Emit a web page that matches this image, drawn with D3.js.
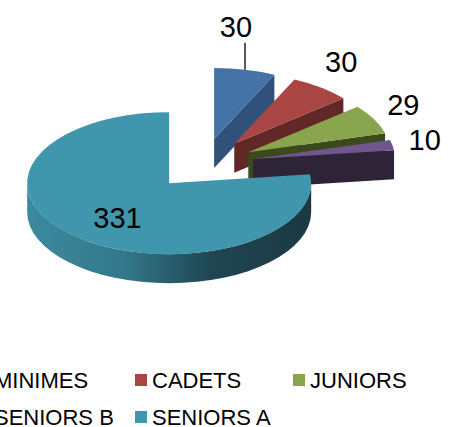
<!DOCTYPE html>
<html>
<head>
<meta charset="utf-8">
<script src="https://cdn.jsdelivr.net/npm/d3@7"></script>
<style>
  html, body { margin: 0; padding: 0; background: #fff; overflow: hidden; }
  text { font-family: "Liberation Sans", Arial, sans-serif; }
</style>
</head>
<body>
<div id="chart"></div>
<script>
// data
var categories = ["MINIMES", "CADETS", "JUNIORS", "SENIORS B", "SENIORS A"];
var values = [30, 30, 29, 10, 331];

// look
var topColors = ["#4572A7", "#A94543", "#88A44C", "#70568F", "#3F96AD"];
var sideColors = ["#30517A", "#622827", "#3C491D", "#2D2438", "#1d3f4a"];

var width = 462, height = 427;
var cx = 203, cy = 164;   // pie centre (before explosion)
var rx = 142, ry = 71;    // ellipse radii of the top face
var depth = 29;           // thickness
var explode = 0.36;       // explosion, fraction of radius

var svg = d3.select("#chart").append("svg")
  .attr("width", width)
  .attr("height", height);

var defs = svg.append("defs");
var grad = defs.append("linearGradient")
  .attr("id", "wallGrad")
  .attr("gradientUnits", "userSpaceOnUse")
  .attr("x1", 26).attr("y1", 0)
  .attr("x2", 310).attr("y2", 0);
grad.append("stop").attr("offset", "0%").attr("stop-color", "#3c8a9e");
grad.append("stop").attr("offset", "35%").attr("stop-color", "#32778a");
grad.append("stop").attr("offset", "65%").attr("stop-color", "#1f4652");
grad.append("stop").attr("offset", "100%").attr("stop-color", "#1a3943");

var color = d3.scaleOrdinal().domain(categories).range(topColors);
var sideColor = d3.scaleOrdinal().domain(categories).range(sideColors);

var pie = d3.pie().sort(null).value(function (d) { return d; });
var arcs = pie(values);

// projected point of angle a (clockwise from 12 o'clock) around centre (x, y)
function pt(x, y, a, k) {
  k = k == null ? 1 : k;
  return [x + Math.sin(a) * rx * k, y - Math.cos(a) * ry * k];
}

arcs.forEach(function (d, i) {
  var mid = (d.startAngle + d.endAngle) / 2;
  var c = pt(cx, cy, mid, explode);
  d.ax = c[0];
  d.ay = c[1];
  d.mid = mid;
});

var g = svg.append("g");

arcs.forEach(function (d, i) {
  var a0 = d.startAngle, a1 = d.endAngle;
  var ax = d.ax, ay = d.ay;
  var s = g.append("g").attr("class", "slice");

  // outer wall (front half only)
  var w0 = Math.max(a0, Math.PI / 2), w1 = Math.min(a1, Math.PI * 1.5);
  if (w1 > w0) {
    var p0 = pt(ax, ay, w0), p1 = pt(ax, ay, w1);
    var big = (w1 - w0) > Math.PI ? 1 : 0;
    var wall = "M" + p0 + "A" + rx + "," + ry + " 0 " + big + " 1 " + p1 +
      "L" + p1[0] + "," + (p1[1] + depth) +
      "A" + rx + "," + ry + " 0 " + big + " 0 " + p0[0] + "," + (p0[1] + depth) + "Z";
    s.append("path").attr("d", wall)
      .attr("fill", i === 4 ? "url(#wallGrad)" : sideColor(categories[i]));
  }

  // end cut face, visible when it faces the viewer
  if (Math.sin(a1) > 0.001) {
    var r1 = pt(ax, ay, a1);
    var face = "M" + ax + "," + ay + "L" + r1 + "L" + r1[0] + "," + (r1[1] + depth) +
      "L" + ax + "," + (ay + depth) + "Z";
    s.append("path").attr("d", face).attr("fill", sideColor(categories[i]));
  }
  if (Math.sin(a0) < -0.001) {
    var r0 = pt(ax, ay, a0);
    var face0 = "M" + ax + "," + ay + "L" + r0 + "L" + r0[0] + "," + (r0[1] + depth) +
      "L" + ax + "," + (ay + depth) + "Z";
    s.append("path").attr("d", face0).attr("fill", sideColor(categories[i]));
  }

  // top face
  var t0 = pt(ax, ay, a0), t1 = pt(ax, ay, a1);
  var large = (a1 - a0) > Math.PI ? 1 : 0;
  var top = "M" + ax + "," + ay + "L" + t0 +
    "A" + rx + "," + ry + " 0 " + large + " 1 " + t1 + "Z";
  s.append("path").attr("d", top).attr("fill", color(categories[i]));
});

// data labels
arcs.forEach(function (d, i) {
  var lx, ly;
  if (i === 4) {
    var p = pt(d.ax, d.ay, d.mid, 0.55);
    lx = p[0]; ly = p[1] + 16;
  } else {
    var rim = pt(d.ax, d.ay, d.mid);
    if (i === 0) {
      // label dragged up, with a leader line
      svg.append("line")
        .attr("x1", rim[0]).attr("y1", rim[1])
        .attr("x2", rim[0]).attr("y2", rim[1] - 27)
        .attr("stroke", "#000").attr("stroke-width", 1.3);
      lx = rim[0] - 9; ly = rim[1] - 33;
    } else {
      lx = rim[0] + Math.sin(d.mid) * 33;
      ly = rim[1] - Math.cos(d.mid) * 33 + 11;
    }
  }
  svg.append("text")
    .attr("x", lx).attr("y", ly)
    .attr("text-anchor", "middle")
    .attr("font-size", 29)
    .attr("fill", "#000")
    .text(d.data);
});

// legend
var legend = svg.append("g");
var colW = 158, rowH = 37, perRow = 3;
categories.forEach(function (name, i) {
  var col = i % perRow, row = Math.floor(i / perRow);
  var x = -23 + col * colW, y = 374 + row * rowH;
  legend.append("rect")
    .attr("x", x).attr("y", y)
    .attr("width", 12).attr("height", 12)
    .attr("fill", color(name));
  legend.append("text")
    .attr("x", x + 17).attr("y", y + 13.5)
    .attr("font-size", 22)
    .attr("fill", "#000")
    .text(name);
});
</script>
</body>
</html>
